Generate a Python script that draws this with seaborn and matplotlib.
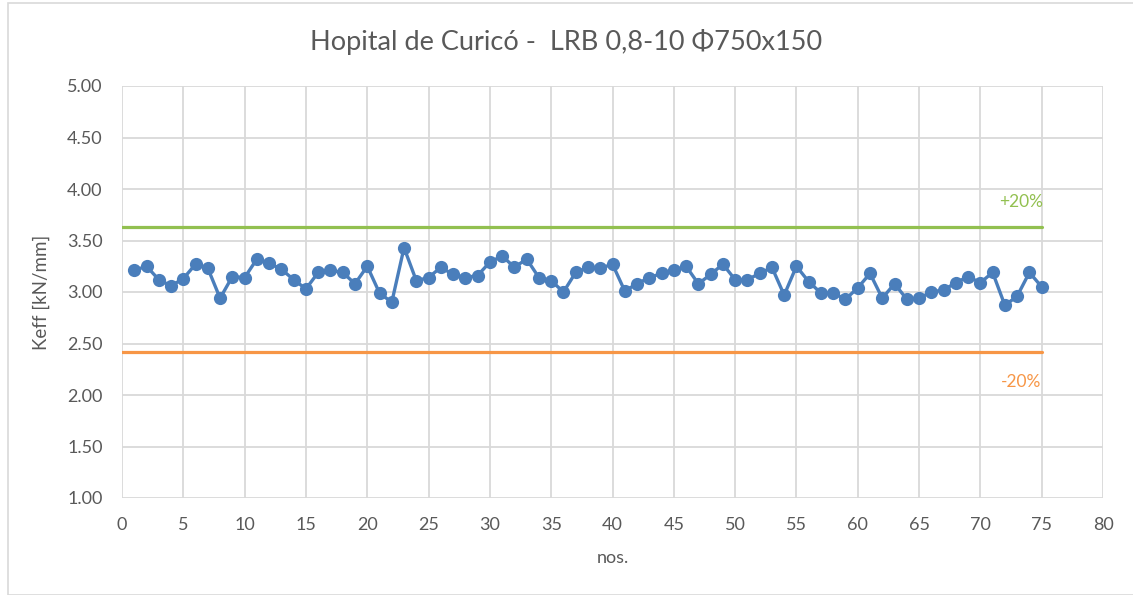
import matplotlib.pyplot as plt
import seaborn as sns
import pandas as pd
from matplotlib.patches import Rectangle

# Keff per device
nos = list(range(1, 76))
keff = [
    3.21, 3.25, 3.12, 3.06, 3.13, 3.27, 3.23, 2.94, 3.15, 3.14,
    3.32, 3.28, 3.22, 3.12, 3.03, 3.19, 3.21, 3.19, 3.08, 3.25,
    2.99, 2.90, 3.43, 3.11, 3.14, 3.24, 3.17, 3.14, 3.16, 3.29,
    3.35, 3.24, 3.32, 3.14, 3.11, 3.00, 3.19, 3.24, 3.23, 3.27,
    3.01, 3.08, 3.14, 3.18, 3.21, 3.25, 3.08, 3.17, 3.27, 3.12,
    3.12, 3.18, 3.24, 2.97, 3.25, 3.10, 2.99, 2.99, 2.93, 3.04,
    3.18, 2.94, 3.08, 2.93, 2.94, 3.00, 3.02, 3.09, 3.15, 3.09,
    3.19, 2.87, 2.96, 3.19, 3.05,
]
limit_x = [0, 75]
upper = [3.63, 3.63]
lower = [2.42, 2.42]

BLUE = "#4A7EBB"
GREEN = "#92C050"
ORANGE = "#F79646"
GRID = "#D9D9D9"
TEXT = "#595959"

sns.set_style("white")
plt.rcParams["font.family"] = ["Lato", "DejaVu Sans"]

df = pd.DataFrame({"nos": nos, "keff": keff})

fig = plt.figure(figsize=(11.33, 5.95), dpi=100)
ax = fig.add_axes([122 / 1133, 1 - 498 / 595, (1103 - 122) / 1133, (498 - 86) / 595])

# chart area border
fig.patches.append(Rectangle((8 / 1133, 0), 1.2, 1 - 3 / 595, transform=fig.transFigure,
                             fill=False, edgecolor=GRID, linewidth=1.2))

sns.lineplot(x=limit_x, y=upper, color=GREEN, linewidth=2.3, ax=ax)
sns.lineplot(x=limit_x, y=lower, color=ORANGE, linewidth=2.3, ax=ax)
sns.lineplot(
    data=df,
    x="nos",
    y="keff",
    ax=ax,
    color=BLUE,
    linewidth=2.4,
    marker="o",
    markersize=9.5,
    markeredgewidth=0,
    errorbar=None,
)

ax.text(73.3, 3.87, "+20%", color=GREEN, fontsize=12.5, ha="center", va="center")
ax.text(73.3, 2.13, "-20%", color=ORANGE, fontsize=12.5, ha="center", va="center")

ax.set_xlim(0, 80)
ax.set_ylim(1.0, 5.0)
ax.set_xticks(range(0, 81, 5))
ax.set_yticks([1.0 + 0.5 * i for i in range(9)])
ax.set_yticklabels([f"{1.0 + 0.5 * i:.2f}" for i in range(9)])
ax.grid(True, color=GRID, linewidth=1.3)
ax.set_axisbelow(True)
for s in ax.spines.values():
    s.set_visible(False)
ax.tick_params(axis="x", length=0, labelsize=13, colors=TEXT, pad=14)
ax.tick_params(axis="y", length=0, labelsize=13, colors=TEXT, pad=14)

ax.set_xlabel("nos.", fontsize=13, color=TEXT, labelpad=12)
ax.set_ylabel("Keff [kN/mm]", fontsize=13.5, color=TEXT, labelpad=12)
fig.text(0.5, 1 - 42 / 595, "Hopital de Curicó -  LRB 0,8-10 Φ750x150",
         ha="center", va="center", fontsize=19.5, color=TEXT)

plt.savefig("out.png", dpi=100)
